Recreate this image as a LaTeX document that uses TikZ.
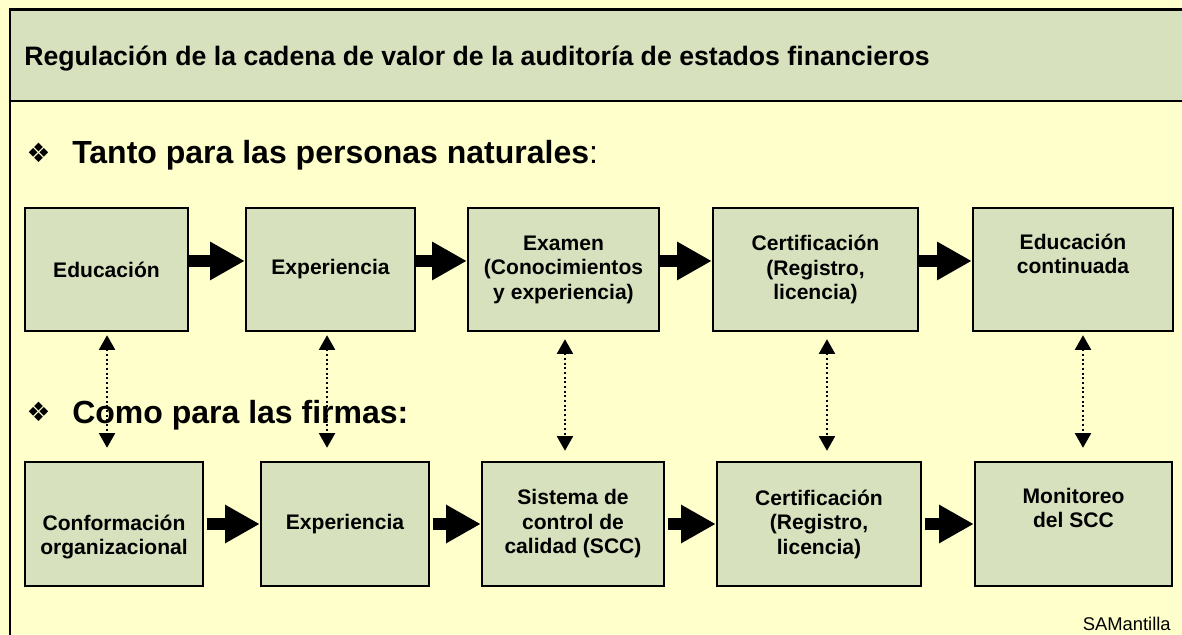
\documentclass[tikz,border=0pt]{standalone}
\usepackage{fontspec}
\setmainfont{Liberation Sans}
\newfontfamily\symfont{DejaVu Sans}
\usetikzlibrary{arrows.meta, positioning}

\definecolor{slideyellow}{HTML}{FFFFCC}
\definecolor{boxgreen}{HTML}{D7E1BE}

\begin{document}
\begin{tikzpicture}[x=0.75pt, y=-0.75pt,
	box/.style={draw=black, line width=1.8pt, fill=boxgreen, align=center, inner sep=0pt,
		font=\bfseries\fontsize{15.8}{18.4}\selectfont},
	toprow/.style={box, minimum height=92.25pt},
	botrow/.style={box, minimum height=93pt},
	heading/.style={inner sep=0pt, font=\bfseries\fontsize{24}{28}\selectfont},
	bullet/.style={inner sep=0pt, font=\symfont\fontsize{20}{24}\selectfont},
	fat/.style={line width=9pt, -{Triangle[length=26pt, width=27pt]}},
	link/.style={line width=1.5pt, dotted,
		{Triangle[length=11pt, width=12pt]}-{Triangle[length=11pt, width=12pt]}}
	]
	
	% slide background and title band
	\fill[slideyellow] (0,0) rectangle (1182,635);
	\useasboundingbox (0,0) rectangle (1182,635);
	\fill[boxgreen] (10,9.5) rectangle (1190,101);
	\draw[line width=1.8pt] (1190,9.5) -- (10,9.5) -- (10,645);
	\draw[line width=1.8pt] (10,101) -- (1190,101);
	
	\node[anchor=base west, inner sep=0pt, font=\bfseries\fontsize{20}{24}\selectfont] (title) at (24,65)
		{Regulación de la cadena de valor de la auditoría de estados financieros};
	
	\node[bullet] (b1) at (38.5,152.5) {❖};
	\node[heading, anchor=base west] (personas) at (72,163) {Tanto para las personas naturales\textmd{:}};
	\node[bullet] (b2) at (38.5,412) {❖};
	\node[heading, anchor=base west] (firmas) at (72,423) {Como para las firmas:};
	
	% personas naturales
	\node[toprow, minimum width=122.25pt] (edu) at (106.5,269.5) {Educación};
	\node[toprow, minimum width=126.75pt] (exp) at (330.5,269.5) {Experiencia};
	\node[toprow, minimum width=143.25pt] (exa) at (563.5,269.5) {Examen\\(Conocimientos\\y experiencia)};
	\node[toprow, minimum width=153.75pt] (cer) at (815.5,269.5) {Certificación\\(Registro,\\licencia)};
	\node[toprow, minimum width=150pt] (edc) at (1073,269.5) {Educación\\continuada\\\strut};
	
	% firmas
	\node[botrow, minimum width=133.5pt] (con) at (114,524) {\strut\\Conformación\\organizacional};
	\node[botrow, minimum width=126pt] (exf) at (345,524) {Experiencia};
	\node[botrow, minimum width=136.5pt] (scc) at (573,524) {Sistema de\\control de\\calidad (SCC)};
	\node[botrow, minimum width=153pt] (cef) at (819,524) {Certificación\\(Registro,\\licencia)};
	\node[botrow, minimum width=147.75pt] (mon) at (1073.5,524) {Monitoreo\\del SCC\\\strut};
	
	\draw[fat] ([yshift=6.4pt]edu.east) -- ([yshift=6.4pt]exp.west);
	\draw[fat] ([yshift=6.4pt]exp.east) -- ([yshift=6.4pt]exa.west);
	\draw[fat] ([yshift=6.4pt]exa.east) -- ([yshift=6.4pt]cer.west);
	\draw[fat] ([yshift=6.4pt]cer.east) -- ([yshift=6.4pt]edc.west);
	
	\draw[fat, shorten <=2pt] (con.east) -- (exf.west);
	\draw[fat, shorten <=2pt] (exf.east) -- (scc.west);
	\draw[fat, shorten <=2pt] (scc.east) -- (cef.west);
	\draw[fat, shorten <=2pt] (cef.east) -- (mon.west);
	
	% links between the two chains
	\draw[link, shorten <=2.25pt, shorten >=9.75pt] ([xshift=0.4pt]edu.south) -- ([xshift=0.4pt]edu.south |- con.north);
	\draw[link, shorten <=2.25pt, shorten >=9.75pt] ([xshift=-2.6pt]exp.south) -- ([xshift=-2.6pt]exp.south |- exf.north);
	\draw[link, shorten <=5.25pt, shorten >=7.5pt] ([xshift=1.1pt]exa.south) -- ([xshift=1.1pt]exa.south |- scc.north);
	\draw[link, shorten <=5.25pt, shorten >=7.5pt] ([xshift=8.6pt]cer.south) -- ([xshift=8.6pt]cer.south |- cef.north);
	\draw[link, shorten <=2.25pt, shorten >=9.75pt] ([xshift=7.5pt]edc.south) -- ([xshift=7.5pt]edc.south |- mon.north);
	
	\node[anchor=base east, inner sep=0pt, font=\fontsize{13.8}{16}\selectfont] (sig) at (1171,630) {SAMantilla};
	
\end{tikzpicture}
\end{document}
